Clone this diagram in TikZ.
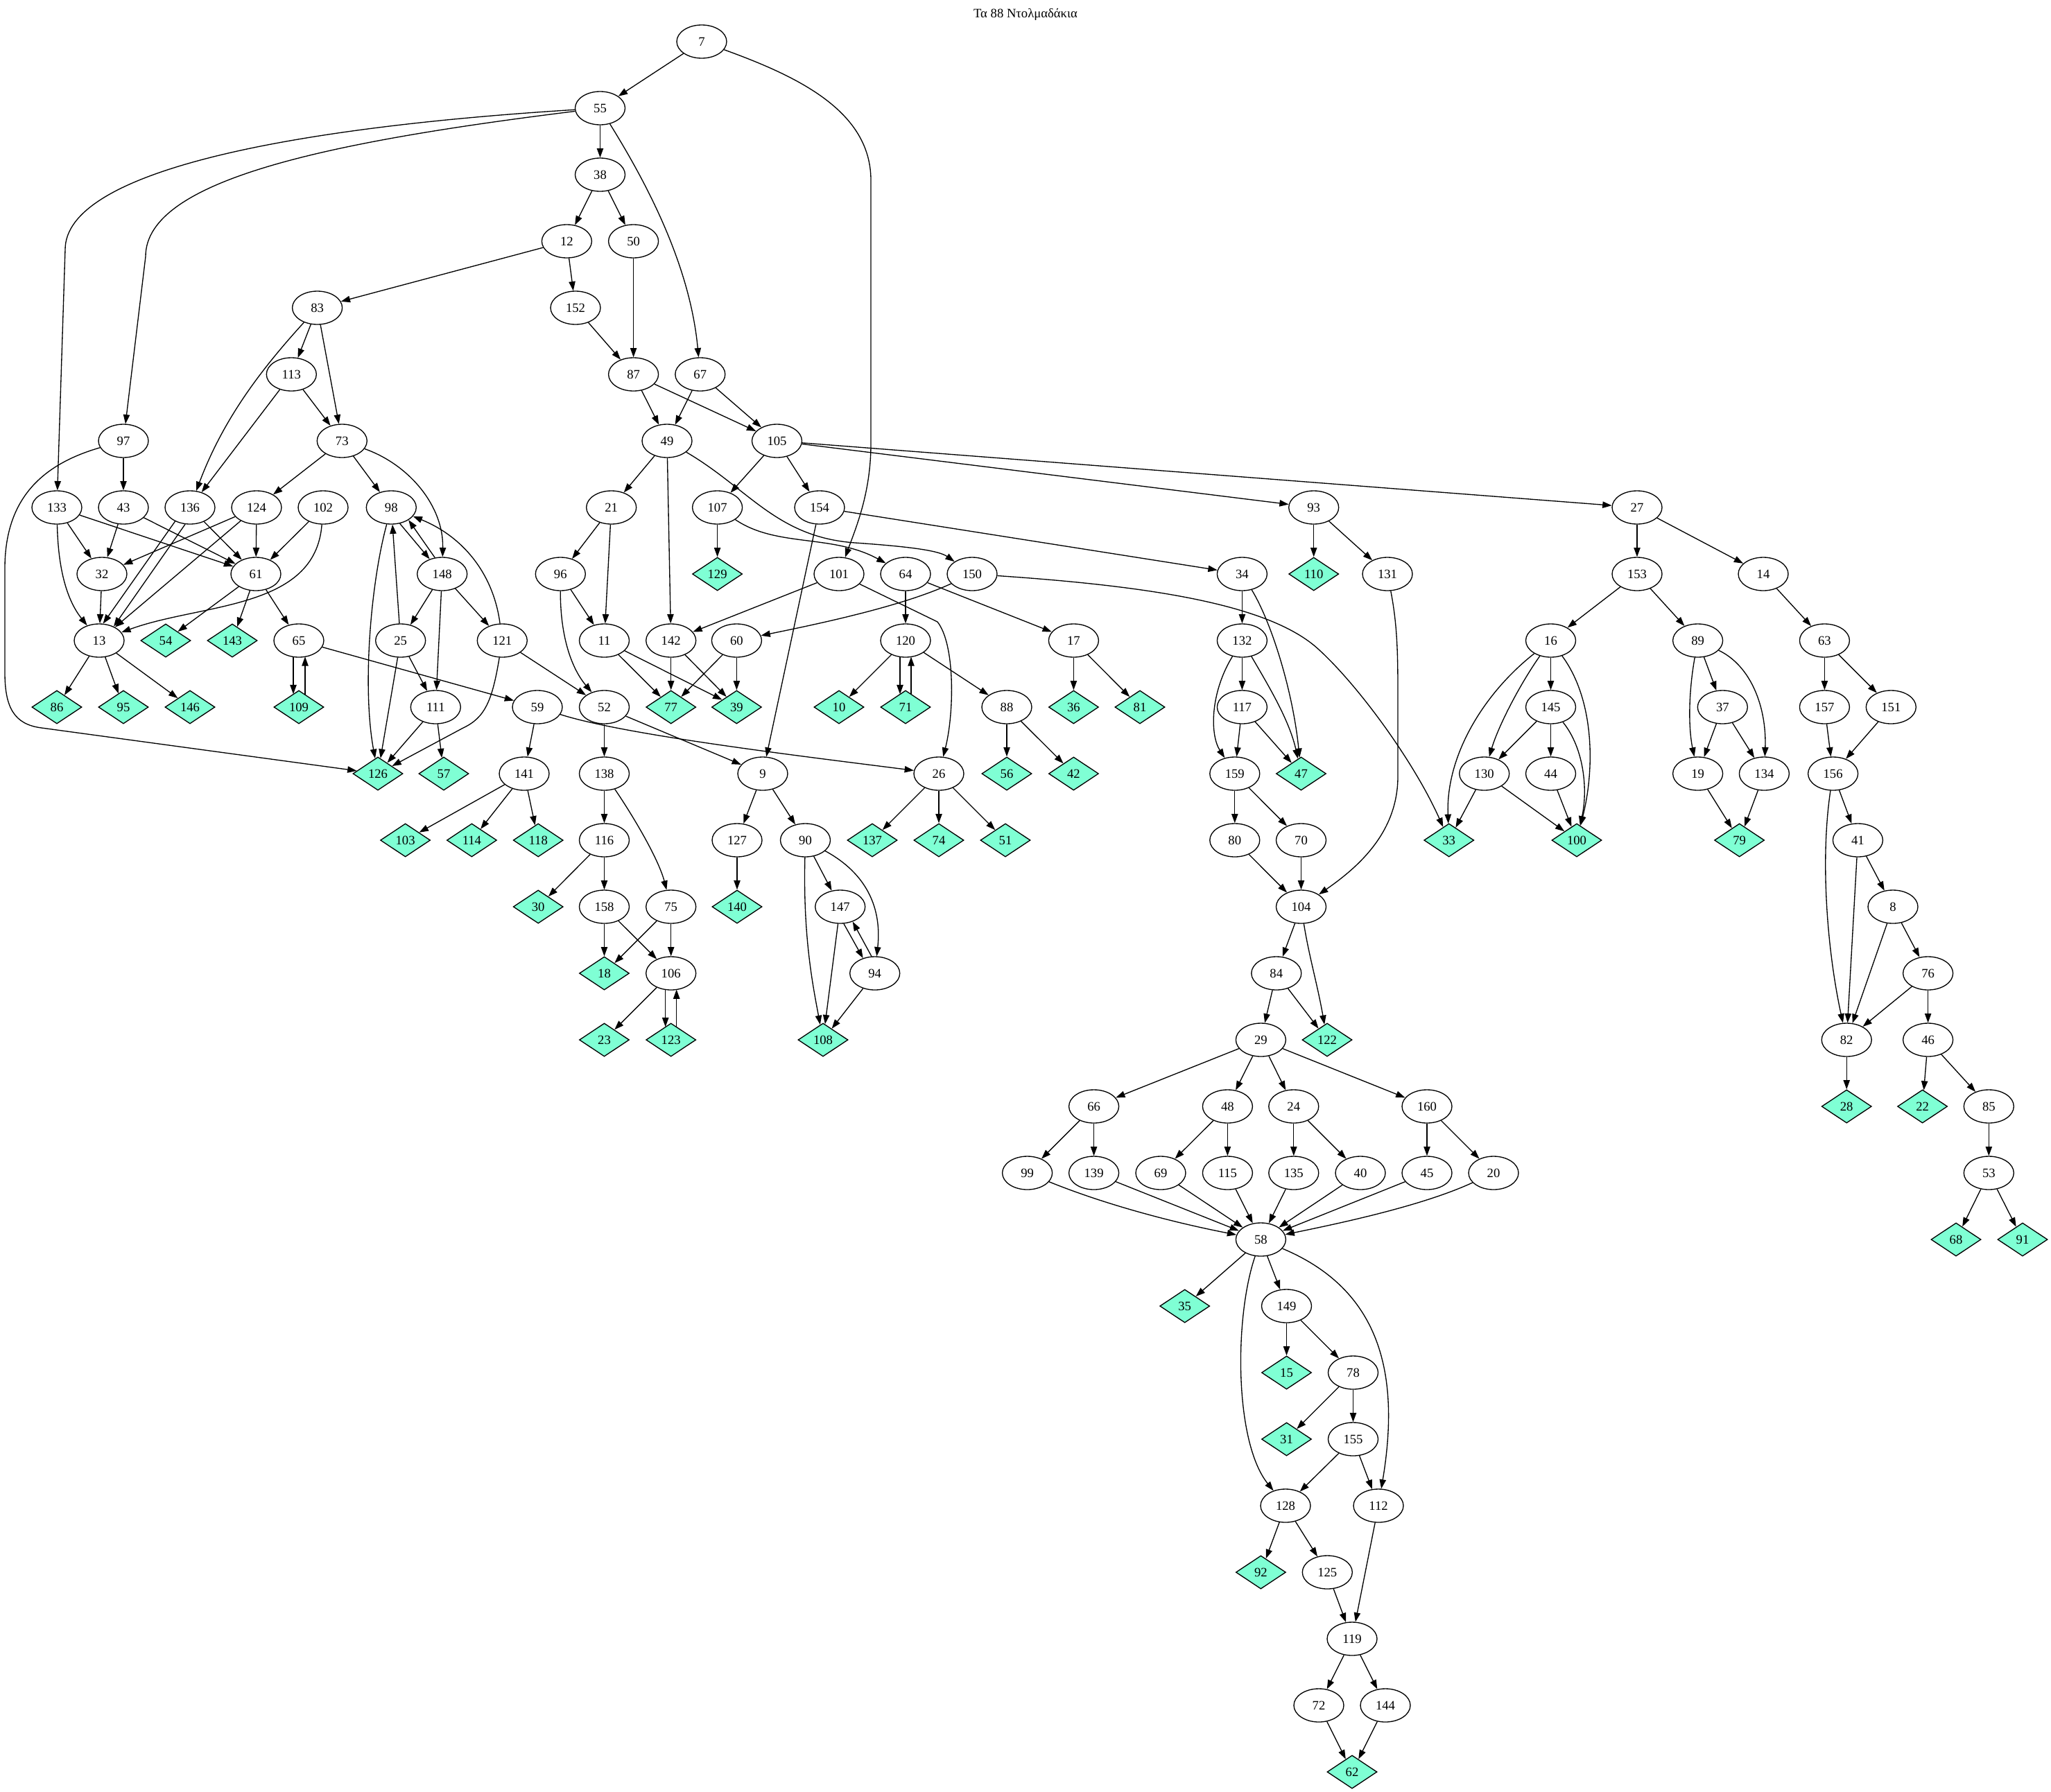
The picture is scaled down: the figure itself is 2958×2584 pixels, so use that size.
\documentclass[tikz,border=0pt]{standalone}
\usepackage{fontspec}
\setmainfont{Liberation Serif}
\usetikzlibrary{arrows.meta,shapes.geometric,calc}
\definecolor{aqua}{HTML}{7FFFD4}
\tikzset{
  ell/.style={draw, ellipse, minimum width=54pt, minimum height=36pt, inner sep=0pt, line width=1pt, font=\fontsize{14pt}{16pt}\selectfont},
  dia/.style={draw, diamond, fill=aqua, minimum width=54pt, minimum height=36pt, inner sep=0pt, shape aspect=1.5, line width=1pt, font=\fontsize{14pt}{16pt}\selectfont},
  edg/.style={line width=1pt, -{Triangle[length=10pt,width=7pt]}},
  ttl/.style={font=\fontsize{14pt}{16pt}\selectfont, inner sep=0pt}
}
\newcommand\mkE[3]{\node[ell] (n#1) at (#2,{60+96*#3}) {#1};}
\newcommand\mkD[3]{\node[dia] (n#1) at (#2,{60+96*#3}) {#1};}
\newcommand\mkL[2]{\draw[edg] (n#1) -- (n#2);}
\begin{document}
\begin{tikzpicture}[x=0.75pt,y=-0.75pt]
\useasboundingbox (0,0) rectangle (2958,2584);
\node[ttl] (title) at (1479,21) {Τα 88 Ντολμαδάκια};
% rank 0-6
\mkE{7}{1012}{0}
\mkE{55}{865.5}{1}
\mkE{38}{865.5}{2}
\mkE{12}{817.4}{3} \mkE{50}{913.6}{3}
\mkE{83}{457.6}{4} \mkE{152}{830}{4}
\mkE{113}{420.3}{5} \mkE{87}{913.6}{5} \mkE{67}{1009.8}{5}
\mkE{97}{178}{6} \mkE{73}{493.3}{6} \mkE{49}{962}{6} \mkE{105}{1120.5}{6}
% rank 7
\mkE{133}{82}{7} \mkE{43}{178}{7} \mkE{136}{274}{7} \mkE{124}{370}{7} \mkE{102}{466}{7}
\mkE{98}{564.3}{7} \mkE{21}{881.7}{7} \mkE{107}{1034.6}{7} \mkE{154}{1182}{7}
\mkE{93}{1894.7}{7} \mkE{27}{2361}{7}
% rank 8
\mkE{32}{147}{8} \mkE{61}{369}{8} \mkE{148}{637.7}{8} \mkE{96}{808.3}{8} \mkD{129}{1034.6}{8}
\mkE{101}{1210}{8} \mkE{64}{1306}{8} \mkE{150}{1402}{8} \mkE{34}{1791.4}{8} \mkD{110}{1894.7}{8}
\mkE{131}{2001}{8} \mkE{153}{2361}{8} \mkE{14}{2543}{8}
% rank 9
\mkE{13}{143}{9} \mkD{54}{239}{9} \mkD{143}{335}{9} \mkE{65}{431}{9} \mkE{25}{577.7}{9}
\mkE{121}{724.3}{9} \mkE{11}{871.5}{9} \mkE{142}{967.7}{9} \mkE{60}{1062.4}{9} \mkE{120}{1306}{9}
\mkE{17}{1548.4}{9} \mkE{132}{1791.4}{9} \mkE{16}{2236.5}{9} \mkE{89}{2448.6}{9} \mkE{63}{2631.4}{9}
% rank 10
\mkD{86}{82}{10} \mkD{95}{178}{10} \mkD{146}{274}{10} \mkD{109}{431}{10} \mkE{111}{628.3}{10}
\mkE{59}{775}{10} \mkE{52}{871.5}{10} \mkD{77}{967.7}{10} \mkD{39}{1062.4}{10} \mkD{10}{1210}{10}
\mkD{71}{1306}{10} \mkE{88}{1452}{10} \mkD{36}{1548.4}{10} \mkD{81}{1644}{10} \mkE{117}{1791.4}{10}
\mkE{145}{2236.5}{10} \mkE{37}{2484.3}{10} \mkE{157}{2631.4}{10} \mkE{151}{2727.3}{10}
% rank 11
\mkD{126}{545}{11} \mkD{57}{640}{11} \mkE{141}{756}{11} \mkE{138}{871.5}{11} \mkE{9}{1100}{11}
\mkE{26}{1354}{11} \mkD{56}{1452}{11} \mkD{42}{1548.4}{11} \mkE{159}{1780.8}{11} \mkD{47}{1876.5}{11}
\mkE{130}{2140.7}{11} \mkE{44}{2236.5}{11} \mkE{19}{2448.6}{11} \mkE{134}{2544.4}{11} \mkE{156}{2643.6}{11}
% rank 12
\mkD{103}{584.6}{12} \mkD{114}{680.4}{12} \mkD{118}{776.2}{12} \mkE{116}{871.5}{12} \mkE{127}{1063}{12}
\mkE{90}{1161.5}{12} \mkD{137}{1258}{12} \mkD{74}{1354}{12} \mkD{51}{1450}{12} \mkE{80}{1780.8}{12}
\mkE{70}{1876.5}{12} \mkD{33}{2089.7}{12} \mkD{100}{2274}{12} \mkD{79}{2508.6}{12} \mkE{41}{2679.4}{12}
% rank 13
\mkD{30}{776.2}{13} \mkE{158}{871.5}{13} \mkE{75}{967.7}{13} \mkD{140}{1063}{13} \mkE{147}{1211.7}{13}
\mkE{104}{1876.5}{13} \mkE{8}{2730}{13}
% rank 14
\mkD{18}{871.5}{14} \mkE{106}{967.7}{14} \mkE{94}{1261.7}{14} \mkE{84}{1840.8}{14} \mkE{76}{2780.6}{14}
% rank 15
\mkD{23}{871.5}{15} \mkD{123}{967.7}{15} \mkD{108}{1187}{15} \mkE{29}{1818.4}{15} \mkD{122}{1914}{15}
\mkE{82}{2663.2}{15} \mkE{46}{2780.6}{15}
% rank 16
\mkE{66}{1577.6}{16} \mkE{48}{1770.4}{16} \mkE{24}{1865.8}{16} \mkE{160}{2058}{16}
\mkD{28}{2663.2}{16} \mkD{22}{2772.6}{16} \mkE{85}{2868.3}{16}
% rank 17
\mkE{99}{1481.6}{17} \mkE{139}{1577.6}{17} \mkE{69}{1674}{17} \mkE{115}{1770.4}{17} \mkE{135}{1865.8}{17}
\mkE{40}{1962}{17} \mkE{45}{2058}{17} \mkE{20}{2154}{17} \mkE{53}{2868.3}{17}
% rank 18-26
\mkE{58}{1818.4}{18} \mkD{68}{2821}{18} \mkD{91}{2917}{18}
\mkD{35}{1708.7}{19} \mkE{149}{1855.5}{19}
\mkD{15}{1855.5}{20} \mkE{78}{1951.5}{20}
\mkD{31}{1855.5}{21} \mkE{155}{1951.5}{21}
\mkE{128}{1854}{22} \mkE{112}{1988}{22}
\mkD{92}{1818.4}{23} \mkE{125}{1914.3}{23}
\mkE{119}{1950}{24}
\mkE{72}{1902}{25} \mkE{144}{1998}{25}
\mkD{62}{1950}{26}
% straight edges
\mkL{7}{55} \mkL{55}{38} \mkL{38}{12} \mkL{38}{50} \mkL{12}{83} \mkL{12}{152} \mkL{50}{87}
\mkL{152}{87} \mkL{83}{113} \mkL{83}{73} \mkL{113}{73} \mkL{113}{136} \mkL{87}{49} \mkL{87}{105}
\mkL{67}{49} \mkL{67}{105} \mkL{97}{43} \mkL{73}{124} \mkL{73}{98} \mkL{49}{21} \mkL{49}{142}
\mkL{105}{107} \mkL{105}{154} \mkL{105}{93} \mkL{105}{27} \mkL{133}{32} \mkL{133}{61} \mkL{43}{32}
\mkL{43}{61} \mkL{136}{61} \mkL{124}{32} \mkL{124}{61} \mkL{124}{13} \mkL{102}{61} \mkL{21}{96}
\mkL{21}{11} \mkL{107}{129} \mkL{154}{34} \mkL{154}{9} \mkL{93}{110} \mkL{93}{131} \mkL{27}{153}
\mkL{27}{14} \mkL{32}{13} \mkL{61}{54} \mkL{61}{143} \mkL{61}{65} \mkL{148}{25} \mkL{148}{121}
\mkL{148}{111} \mkL{96}{11} \mkL{101}{142} \mkL{64}{120} \mkL{64}{17} \mkL{34}{132} \mkL{153}{16}
\mkL{153}{89} \mkL{14}{63} \mkL{13}{86} \mkL{13}{95} \mkL{13}{146} \mkL{65}{59} \mkL{25}{98}
\mkL{25}{126} \mkL{25}{111} \mkL{121}{52} \mkL{11}{77} \mkL{11}{39} \mkL{142}{77} \mkL{142}{39}
\mkL{60}{77} \mkL{60}{39} \mkL{120}{10} \mkL{120}{88} \mkL{17}{36} \mkL{17}{81} \mkL{132}{117}
\mkL{16}{145} \mkL{89}{37} \mkL{63}{157} \mkL{63}{151} \mkL{111}{126} \mkL{111}{57} \mkL{59}{141}
\mkL{52}{138} \mkL{52}{9} \mkL{88}{56} \mkL{88}{42} \mkL{117}{159} \mkL{117}{47} \mkL{145}{130}
\mkL{145}{44} \mkL{37}{19} \mkL{37}{134} \mkL{157}{156} \mkL{151}{156} \mkL{141}{103} \mkL{141}{114}
\mkL{141}{118} \mkL{138}{116} \mkL{9}{127} \mkL{9}{90} \mkL{26}{137} \mkL{26}{74} \mkL{26}{51}
\mkL{159}{80} \mkL{159}{70} \mkL{130}{33} \mkL{130}{100} \mkL{44}{100} \mkL{19}{79} \mkL{134}{79}
\mkL{156}{41} \mkL{41}{82} \mkL{116}{30} \mkL{116}{158} \mkL{127}{140} \mkL{147}{108} \mkL{80}{104}
\mkL{70}{104} \mkL{41}{8} \mkL{158}{18} \mkL{158}{106} \mkL{75}{18} \mkL{75}{106} \mkL{104}{84}
\mkL{8}{76} \mkL{8}{82} \mkL{106}{23} \mkL{94}{108} \mkL{84}{29} \mkL{84}{122} \mkL{76}{82}
\mkL{76}{46} \mkL{29}{66} \mkL{29}{48} \mkL{29}{24} \mkL{29}{160} \mkL{82}{28} \mkL{46}{22}
\mkL{46}{85} \mkL{66}{99} \mkL{66}{139} \mkL{48}{69} \mkL{48}{115} \mkL{24}{135} \mkL{24}{40}
\mkL{160}{45} \mkL{160}{20} \mkL{85}{53} \mkL{139}{58} \mkL{69}{58} \mkL{115}{58} \mkL{135}{58}
\mkL{40}{58} \mkL{45}{58} \mkL{53}{68} \mkL{53}{91} \mkL{58}{35} \mkL{58}{149} \mkL{149}{15}
\mkL{149}{78} \mkL{78}{31} \mkL{78}{155} \mkL{155}{128} \mkL{155}{112} \mkL{128}{92} \mkL{128}{125}
\mkL{125}{119} \mkL{112}{119} \mkL{119}{72} \mkL{119}{144} \mkL{72}{62} \mkL{144}{62} \mkL{90}{147}
% curved edges
\draw[edg] (n7) .. controls (1150,110) and (1256,160) .. (1256,260) -- (1256,640) .. controls (1256,710) and (1235,760) .. (n101);
\draw[edg] (n55) .. controls (400,185) and (94,250) .. (94,360) -- (n133);
\draw[edg] (n55) .. controls (470,205) and (210,260) .. (210,370) -- (n97);
\draw[edg] (n55) .. controls (930,260) and (995,380) .. (n67);
\draw[edg] (n83) .. controls (370,540) and (320,610) .. (n136);
\draw[edg] (n73) .. controls (590,670) and (640,730) .. (n148);
\draw[edg] (n97) .. controls (60,670) and (7,720) .. (7,820) -- (7,970) .. controls (7,1020) and (20,1045) .. (60,1050) -- (n126);
\draw[edg] (n98) .. controls (535,840) and (522,990) .. (n126);
\draw[edg] (n121) .. controls (712,830) and (670,775) .. (n98);
\draw[edg] (n121) .. controls (710,1010) and (700,1035) .. (668,1050) -- (n126);
\draw[edg] (n133) .. controls (84,830) and (100,870) .. (n13);
\draw[edg] (n102) .. controls (455,880) and (290,870) .. (n13);
\draw[edg] (n136.-137) -- (n13.77);
\draw[edg] (n136.-106) -- (n13.44);
\draw[edg] (n96) .. controls (808,920) and (825,965) .. (n52);
\draw[edg] (n59) .. controls (900,1060) and (1150,1090) .. (n26);
\draw[edg] (n49) .. controls (1080,705) and (1120,775) .. (1233,783) .. controls (1320,789) and (1355,795) .. (n150);
\draw[edg] (n107) .. controls (1120,790) and (1200,770) .. (n64);
\draw[edg] (n150) .. controls (1300,875) and (1180,900) .. (n60);
\draw[edg] (n150) .. controls (1650,845) and (1830,870) .. (1902,937) .. controls (1960,990) and (2040,1100) .. (n33);
\draw[edg] (n101) -- (1352,897) .. controls (1378,930) and (1376,1030) .. (n26);
\draw[edg] (n34) .. controls (1835,900) and (1865,1000) .. (n47);
\draw[edg] (n132) .. controls (1830,990) and (1860,1040) .. (n47);
\draw[edg] (n132) .. controls (1745,1000) and (1745,1060) .. (n159);
\draw[edg] (n131) .. controls (2015,900) and (2016,940) .. (2016,1000) -- (2016,1120) .. controls (2016,1200) and (1960,1250) .. (n104);
\draw[edg] (n16) .. controls (2140,1000) and (2085,1090) .. (n33);
\draw[edg] (n16) .. controls (2190,990) and (2160,1050) .. (n130);
\draw[edg] (n16) .. controls (2300,1010) and (2300,1110) .. (n100);
\draw[edg] (n145) .. controls (2285,1080) and (2290,1140) .. (n100);
\draw[edg] (n89) .. controls (2435,1000) and (2435,1050) .. (n19);
\draw[edg] (n89) .. controls (2525,960) and (2548,1020) .. (n134);
\draw[edg] (n156) .. controls (2625,1240) and (2635,1370) .. (n82);
\draw[edg] (n104) .. controls (1888,1380) and (1900,1420) .. (n122);
\draw[edg] (n58) .. controls (1780,1900) and (1780,2080) .. (n128);
\draw[edg] (n58) .. controls (1990,1860) and (2020,1980) .. (n112);
\draw[edg] (n99) .. controls (1600,1740) and (1700,1765) .. (n58);
\draw[edg] (n20) .. controls (2050,1740) and (1930,1765) .. (n58);
\draw[edg] (n90) .. controls (1250,1260) and (1272,1310) .. (n94);
\draw[edg] (n90) .. controls (1158,1350) and (1172,1420) .. (n108);
\draw[edg] (n138) .. controls (915,1180) and (950,1240) .. (n75);
% paired edges
\draw[edg] (n98.-62) -- (n148.130);
\draw[edg] (n148.114) -- (n98.-36);
\draw[edg] (n147.-78) -- (n94.128);
\draw[edg] (n94.101) -- (n147.-50);
\draw[edg] ($(n120)+(-8,23.4)$) -- ($(n71)+(-8,-18.7)$);
\draw[edg] ($(n71)+(8,-18.7)$) -- ($(n120)+(8,23.4)$);
\draw[edg] ($(n65)+(-8,23.4)$) -- ($(n109)+(-8,-18.7)$);
\draw[edg] ($(n109)+(9,-18)$) -- ($(n65)+(9,23.2)$);
\draw[edg] ($(n106)+(-8,23.4)$) -- ($(n123)+(-8,-18.7)$);
\draw[edg] ($(n123)+(8,-18.7)$) -- ($(n106)+(8,23.4)$);
\end{tikzpicture}
\end{document}
